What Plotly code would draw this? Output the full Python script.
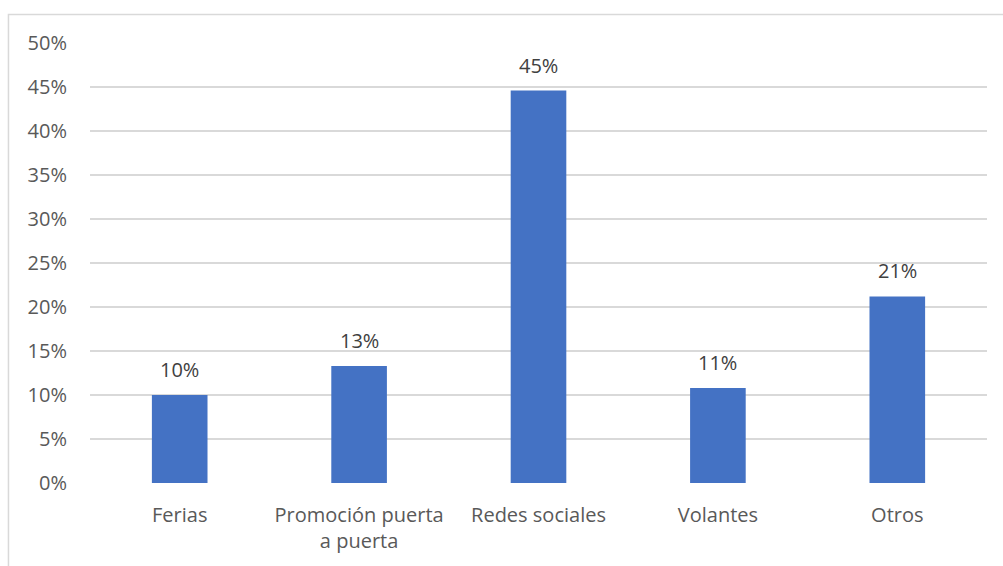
import plotly.graph_objects as go

# Canales de difusión y su participación
categorias = ["Ferias", "Promoción puerta<br>a puerta", "Redes sociales", "Volantes", "Otros"]
porcentajes = [0.100, 0.133, 0.446, 0.108, 0.212]

ticks_y = [0, 0.05, 0.10, 0.15, 0.20, 0.25, 0.30, 0.35, 0.40, 0.45, 0.50]

FONT = "Open Sans"
GRIS_TEXTO = "#595959"
AZUL = "#4472C4"
TAM = 20

fig = go.Figure()
fig.add_trace(go.Bar(
    x=categorias,
    y=porcentajes,
    marker=dict(color=AZUL, line=dict(width=0)),
    hoverinfo="skip",
))

# Etiquetas de valor sobre cada barra
for cat, val in zip(categorias, porcentajes):
    fig.add_annotation(
        x=cat, y=val, text=f"{val:.0%}", showarrow=False,
        yanchor="bottom", yshift=10,
        font=dict(family=FONT, size=TAM, color="#404040"),
    )

# Marco del área del gráfico
fig.add_shape(
    type="rect", xref="paper", yref="paper",
    x0=-0.0909, x1=1.03, y0=-0.3, y1=1.0648,
    line=dict(color="#d9d9d9", width=1.5), fillcolor="rgba(0,0,0,0)",
    layer="below",
)

fig.update_layout(
    width=1003, height=566,
    margin=dict(l=90, r=16, t=43, b=83),
    paper_bgcolor="white", plot_bgcolor="white",
    bargap=0.69,
    showlegend=False,
    font=dict(family=FONT, size=TAM, color=GRIS_TEXTO),
    xaxis=dict(
        showgrid=False, showline=False, zeroline=False,
        ticks="", tickfont=dict(family=FONT, size=TAM, color=GRIS_TEXTO),
        ticklabelstandoff=18,
    ),
    yaxis=dict(
        range=[0, 0.5], tickvals=ticks_y, tickformat=".0%",
        showgrid=True, gridcolor="#d9d9d9", gridwidth=1.5,
        zeroline=False, showline=False, ticks="",
        tickfont=dict(family=FONT, size=TAM, color=GRIS_TEXTO),
        ticklabelstandoff=22,
    ),
)

fig.write_html("out.html")
